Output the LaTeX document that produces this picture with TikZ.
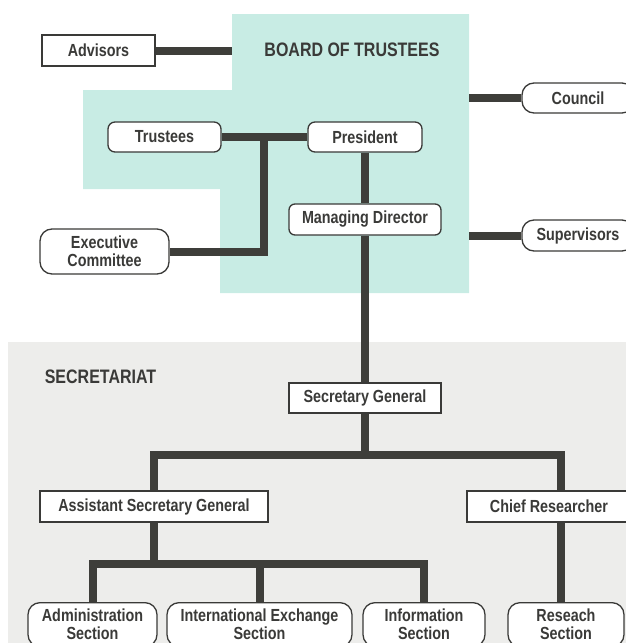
\documentclass[tikz,border=0pt]{standalone}
\usepackage{fontspec}
\setmainfont{Liberation Sans}[FakeStretch=0.82]
\usetikzlibrary{calc}
\definecolor{cyanbg}{RGB}{200,236,228}
\definecolor{graybg}{RGB}{237,237,235}
\definecolor{ink}{RGB}{58,58,56}
\definecolor{linec}{RGB}{62,62,58}
\pgfdeclarelayer{bg}\pgfdeclarelayer{edges}\pgfsetlayers{bg,edges,main}
\tikzset{
 box/.style={draw=ink, fill=white, line width=1.3pt, inner sep=0pt, align=center, text=ink, font=\fontsize{17.5}{18}\selectfont\bfseries},
 sq/.style={box},
 rnd/.style={box, rounded corners=7pt},
 rndl/.style={box, rounded corners=12pt},
 conn/.style={draw=linec, line width=8pt, line join=miter},
 head/.style={text=ink, font=\fontsize{19.5}{20}\selectfont\bfseries, inner sep=0pt}
}
\begin{document}
\begin{tikzpicture}[x=1pt,y=-1pt]
\useasboundingbox (0,0) rectangle (626,643);
\clip (0,0) rectangle (626,643);
% nodes
\node[sq, minimum width=113pt, minimum height=31pt] (adv) at (98.5,50.5) {Advisors};
\node[rnd, minimum width=113pt, minimum height=30pt] (tru) at (164.5,137) {Trustees};
\node[rnd, minimum width=114pt, minimum height=30pt] (pres) at (365,137) {President};
\node[box, rounded corners=6pt, minimum width=152pt, minimum height=31pt] (md) at (365,219.5) {Managing Director};
\node[rndl, minimum width=129pt, minimum height=45pt] (exe) at (104.5,251.5) {Executive\\Committee};
\node[rndl, minimum width=112pt, minimum height=30pt] (cou) at (578,98) {Council};
\node[rndl, minimum width=112pt, minimum height=31pt] (sup) at (578,235.5) {Supervisors};
\node[sq, minimum width=152pt, minimum height=30pt] (sg) at (365,398) {Secretary General};
\node[sq, minimum width=228pt, minimum height=31pt] (asg) at (154,506.5) {Assistant Secretary General};
\node[sq, minimum width=164pt, minimum height=31pt] (cr) at (549,506.5) {Chief Researcher};
\node[rndl, anchor=north, minimum width=129pt, minimum height=44pt] (adm) at (92.5,602) {Administration\\Section};
\node[rndl, anchor=north, minimum width=185pt, minimum height=44pt] (ies) at (259.5,602) {International Exchange\\Section};
\node[rndl, anchor=north, minimum width=122pt, minimum height=44pt] (inf) at (424,602) {Information\\Section};
\node[rndl, anchor=north, minimum width=116pt, minimum height=44pt] (res) at (566,602) {Reseach\\Section};
\node[head] (board) at (352,50) {BOARD OF TRUSTEES};
\node[head] (secr) at (100.5,376.5) {SECRETARIAT};
% backgrounds
\begin{pgfonlayer}{bg}
\fill[graybg] (8,342) rectangle (640,660);
\fill[cyanbg] (232,14) -- (469,14) -- (469,293) -- (220,293) -- (220,189) -- (83,189) -- (83,90) -- (232,90) -- cycle;
\end{pgfonlayer}
% connectors
\begin{pgfonlayer}{edges}
\coordinate (bL) at (232,50.5);
\draw[conn] (adv.east) -- (bL);
\coordinate (bR1) at (469,98);
\draw[conn] (bR1) -- (cou.west);
\coordinate (bR2) at (469,235.5);
\draw[conn] (bR2) -- (sup.west);
\draw[conn] (tru.east) -- (pres.west);
\coordinate (j1) at (264,137);
\draw[conn] (j1) |- (exe.east);
\draw[conn] (pres.south) -- (md.north);
\draw[conn] (md.south) -- (sg.north);
\coordinate (bus) at (365,455);
\coordinate (crT) at (561,491);
\draw[conn] (sg.south) -- (bus);
\draw[conn] (asg.north) |- (bus) -| (crT);
\coordinate (sub) at (154,564);
\draw[conn] (asg.south) -- (sub);
\draw[conn] (adm.north) |- (sub) -| (inf.north);
\draw[conn] (ies.north) -- (ies.north |- sub);
\draw[conn] ($(cr.south)+(12,0)$) -- ($(res.north)+(-5,0)$);
\end{pgfonlayer}
\end{tikzpicture}
\end{document}
